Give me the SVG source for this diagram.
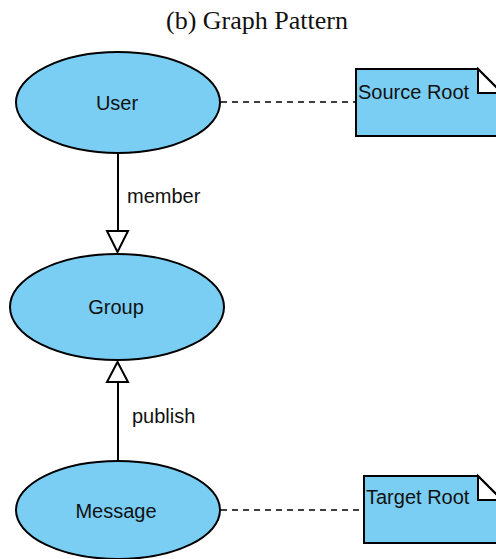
<svg xmlns="http://www.w3.org/2000/svg" width="496" height="559" viewBox="0 0 496 559">
  <style>
    .node { fill: #7acef4; stroke: #000; stroke-width: 2; }
    .lbl { font-family: "Liberation Sans", Arial, sans-serif; font-size: 20px; fill: #111; }
    .elbl { font-family: "Liberation Sans", Arial, sans-serif; font-size: 20px; fill: #111; }
    .dash { stroke: #000; stroke-width: 1.5; stroke-dasharray: 6 5; fill: none; }
    .edge { stroke: #000; stroke-width: 2; fill: none; }
    .head { fill: #fff; stroke: #000; stroke-width: 2; }
    .fold { fill: #fff; stroke: #000; stroke-width: 2; }
  </style>
  <rect width="496" height="559" fill="#fff"/>
  <text x="257" y="29" text-anchor="middle" font-family="Liberation Serif, Times New Roman, serif" font-size="26" fill="#111">(b) Graph Pattern</text>

  <g id="connectors">
    <line class="dash" x1="221" y1="102" x2="355" y2="102"/>
    <line class="dash" x1="221" y1="510" x2="363" y2="510"/>
    <line class="edge" x1="118" y1="153" x2="118" y2="231"/>
    <polygon class="head" points="107,231 128,231 117.5,252"/>
    <text class="elbl" x="127" y="203">member</text>
    <line class="edge" x1="118" y1="460" x2="118" y2="382"/>
    <polygon class="head" points="107,382 128,382 117.5,362"/>
    <text class="elbl" x="132" y="423">publish</text>
  </g>

  <g id="user">
    <ellipse class="node" cx="118" cy="102.5" rx="102" ry="50.5"/>
    <text class="lbl" x="117" y="110" text-anchor="middle">User</text>
  </g>
  <g id="group">
    <ellipse class="node" cx="117" cy="307" rx="107" ry="53"/>
    <text class="lbl" x="116" y="314" text-anchor="middle">Group</text>
  </g>
  <g id="message">
    <ellipse class="node" cx="118" cy="510" rx="102" ry="49"/>
    <text class="lbl" x="116" y="518" text-anchor="middle">Message</text>
  </g>

  <g id="source-root">
    <path class="node" d="M356,69 H478 L502,93 V136 H356 Z"/>
    <path class="fold" d="M478,69 V93 H502 Z"/>
    <text class="lbl" x="358" y="99">Source Root</text>
  </g>
  <g id="target-root">
    <path class="node" d="M364,476 H478 L502,500 V543 H364 Z"/>
    <path class="fold" d="M478,476 V500 H502 Z"/>
    <text class="lbl" x="366" y="504">Target Root</text>
  </g>
</svg>
